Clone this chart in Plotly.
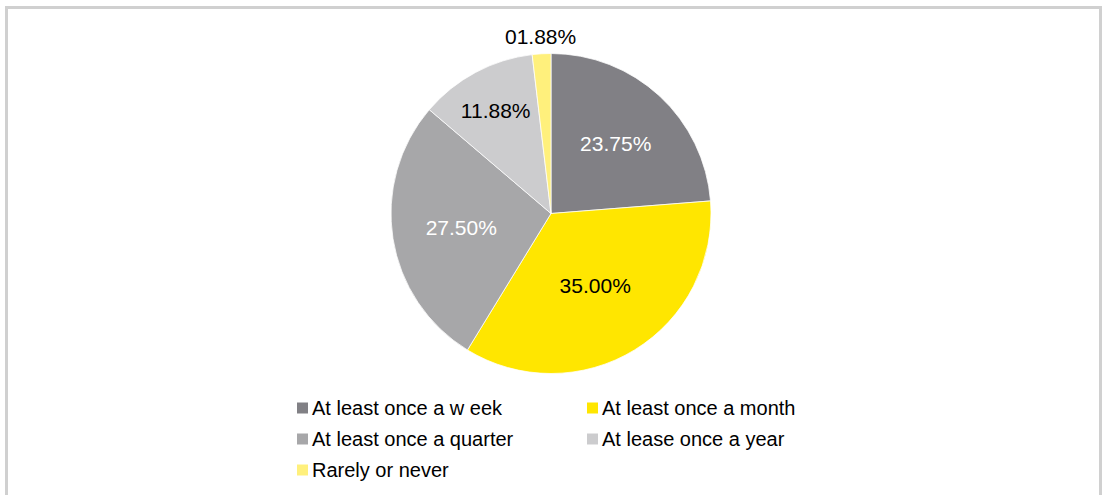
import math
import plotly.graph_objects as go

# Survey: how often respondents do it
categories = [
    "At least once a w eek",
    "At least once a month",
    "At least once a quarter",
    "At lease once a year",
    "Rarely or never",
]
shares = [23.75, 35.00, 27.50, 11.88, 1.88]
label_texts = ["23.75%", "35.00%", "27.50%", "11.88%", "01.88%"]

slice_colors = ["#818085", "#FFE600", "#A7A7A9", "#CCCCCE", "#FFF07C"]
label_colors = ["#FFFFFF", "#000000", "#FFFFFF", "#000000", "#000000"]

FONT = "Liberation Sans, Arial, sans-serif"
W, H = 1102, 495
cx, cy, r = 551, 213.5, 160  # pie centre and radius in pixels

# the smallest slice gets its label outside the pie
inside_text = label_texts[:-1] + [""]

fig = go.Figure(
    go.Pie(
        labels=categories,
        values=shares,
        text=inside_text,
        textinfo="text",
        textposition="inside",
        insidetextorientation="horizontal",
        textfont=dict(family=FONT, size=21, color=label_colors),
        marker=dict(colors=slice_colors, line=dict(color="#FFFFFF", width=0.75)),
        sort=False,
        direction="clockwise",
        rotation=0,
        hoverinfo="label+percent",
        showlegend=False,
        domain=dict(x=[(cx - r) / W, (cx + r) / W], y=[(H - cy - r) / H, (H - cy + r) / H]),
    )
)

annotations = []
shapes = []

# outside label for the last slice, placed along its mid angle
total = sum(shares)
mid = (total - shares[-1] / 2) / total * 2 * math.pi
rad = r + 17
annotations.append(
    dict(
        x=(cx + rad * math.sin(mid)) / W,
        y=1 - (cy - rad * math.cos(mid)) / H,
        xref="paper",
        yref="paper",
        text=label_texts[-1],
        showarrow=False,
        xanchor="center",
        yanchor="middle",
        font=dict(family=FONT, size=21, color=label_colors[-1]),
    )
)

# two-column legend below the pie
col_x = [297, 587]
row_y = [408, 439, 470]
sq = 11
for i, (name, col) in enumerate(zip(categories, slice_colors)):
    x0 = col_x[i % 2]
    yc = row_y[i // 2]
    shapes.append(
        dict(
            type="rect",
            xref="paper",
            yref="paper",
            x0=x0 / W,
            x1=(x0 + sq) / W,
            y0=1 - (yc + sq / 2) / H,
            y1=1 - (yc - sq / 2) / H,
            line=dict(width=0),
            fillcolor=col,
        )
    )
    annotations.append(
        dict(
            x=(x0 + 13) / W,
            y=1 - yc / H,
            xref="paper",
            yref="paper",
            text=name,
            showarrow=False,
            xanchor="left",
            yanchor="middle",
            font=dict(family=FONT, size=20, color="#000000"),
        )
    )

# outer frame
shapes.append(
    dict(
        type="rect",
        xref="paper",
        yref="paper",
        x0=6.5 / W,
        x1=1100.5 / W,
        y0=-0.05,
        y1=1 - 7.5 / H,
        line=dict(color="#D0D0D0", width=3),
        fillcolor="rgba(0,0,0,0)",
        layer="below",
    )
)

fig.update_layout(
    width=W,
    height=H,
    margin=dict(l=0, r=0, t=0, b=0),
    paper_bgcolor="#FFFFFF",
    plot_bgcolor="#FFFFFF",
    font=dict(family=FONT, color="#000000"),
    showlegend=False,
    annotations=annotations,
    shapes=shapes,
)

fig.write_html("out.html")
